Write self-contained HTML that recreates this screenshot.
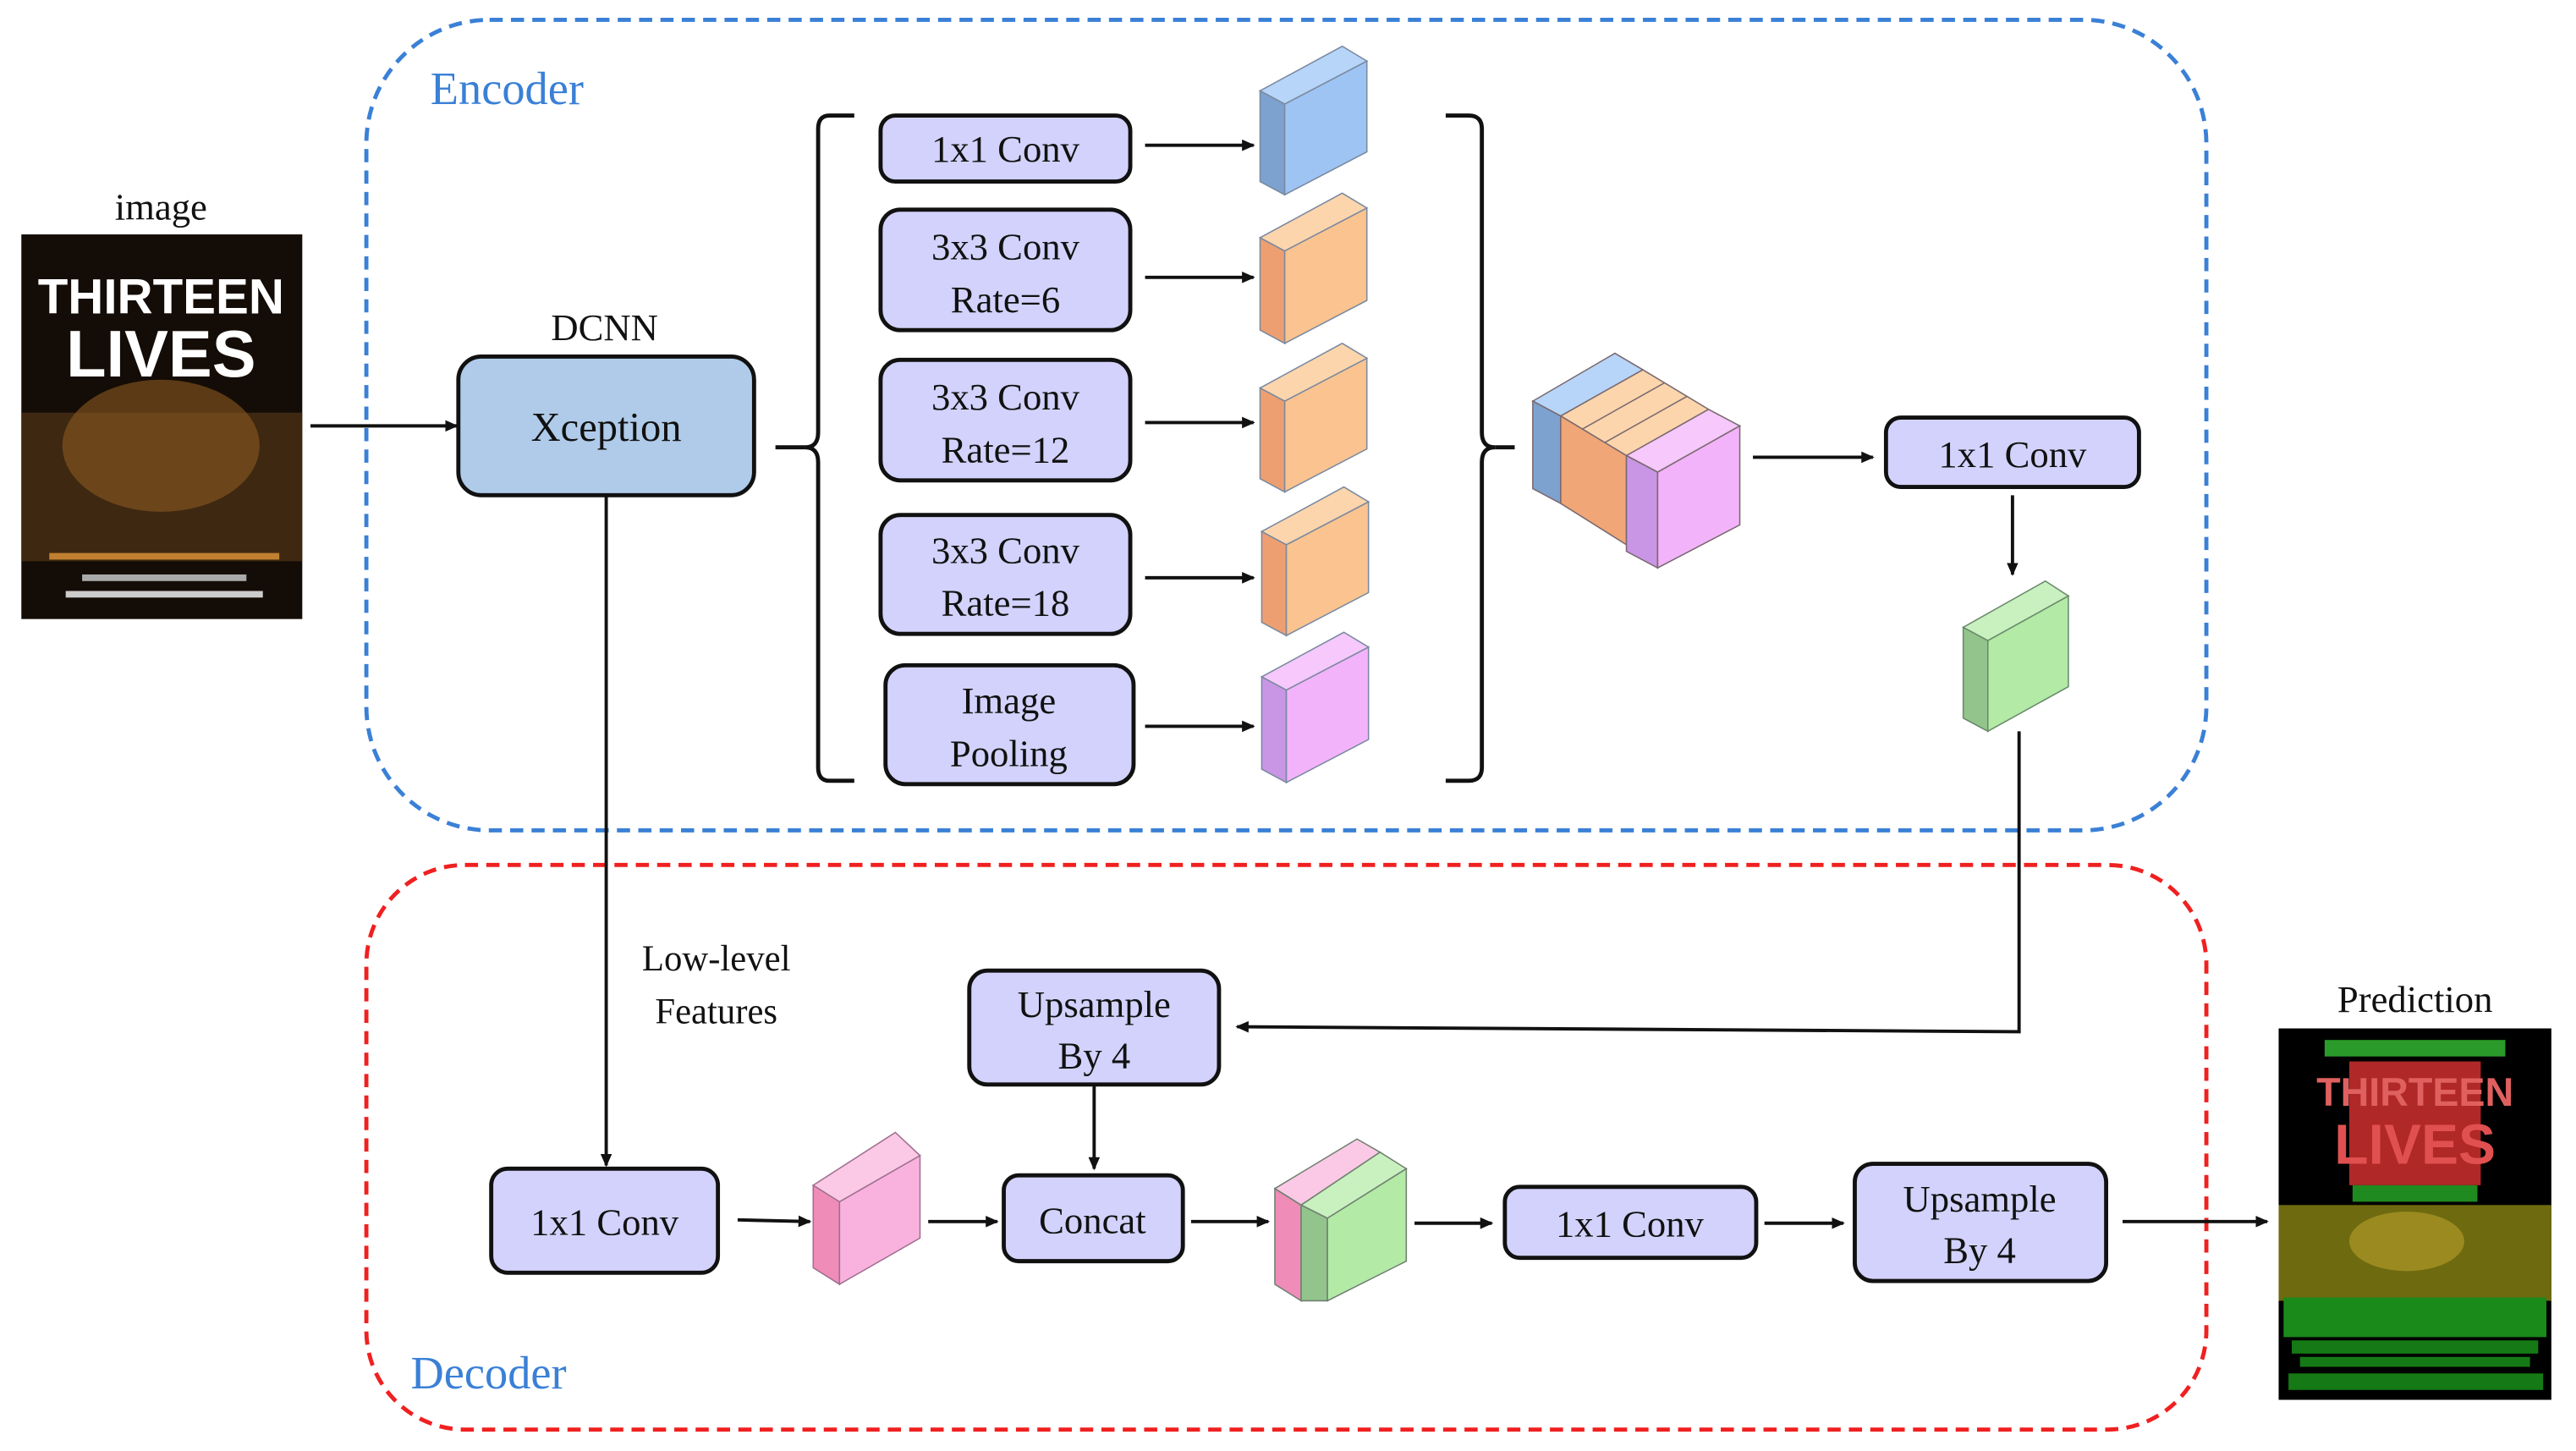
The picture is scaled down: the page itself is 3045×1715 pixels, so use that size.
<!DOCTYPE html>
<html><head><meta charset="utf-8"><style>
html,body{margin:0;padding:0;background:#fff;}
svg{display:block;}
text{font-family:"Liberation Serif",serif;fill:#111;}
</style></head><body>
<svg width="3045" height="1715" viewBox="0 0 1568 879" preserveAspectRatio="none" xmlns="http://www.w3.org/2000/svg">
<defs>
<marker id="ar" markerWidth="8" markerHeight="8" refX="7" refY="4" orient="auto" markerUnits="userSpaceOnUse">
<path d="M0,0.5 L8,4 L0,7.5 z" fill="#111"/></marker>
</defs>
<rect width="1568" height="879" fill="#fff"/>
<rect x="223" y="12" width="1120" height="491" rx="75" fill="none" stroke="#3a80d6" stroke-width="2.5" stroke-dasharray="8,5"/>
<text x="262" y="63" font-size="28" style="fill:#3a80d6">Encoder</text>
<rect x="223" y="524" width="1120" height="342" rx="60" fill="none" stroke="#f02020" stroke-width="2.5" stroke-dasharray="8,5"/>
<text x="250" y="841" font-size="28" style="fill:#3a80d6">Decoder</text>

<text x="98" y="133" font-size="23" text-anchor="middle">image</text>
<rect x="13" y="142" width="171" height="233" fill="#140c06"/>
<rect x="13" y="250" width="171" height="90" fill="#4a3015" opacity="0.8"/>
<ellipse cx="98" cy="270" rx="60" ry="40" fill="#8a5a1f" opacity="0.6"/>
<text x="98" y="190" font-size="30" text-anchor="middle" font-weight="bold" style="fill:#fff;font-family:'Liberation Sans Narrow','Liberation Sans',sans-serif">THIRTEEN</text>
<text x="98" y="228" font-size="40" text-anchor="middle" font-weight="bold" style="fill:#fff;font-family:'Liberation Sans Narrow','Liberation Sans',sans-serif">LIVES</text>
<rect x="30" y="335" width="140" height="4" fill="#c08030"/>
<rect x="50" y="348" width="100" height="4" fill="#aaa"/>
<rect x="40" y="358" width="120" height="4" fill="#ccc"/>
<line x1="189" y1="258" x2="278" y2="258" stroke="#111" stroke-width="2" marker-end="url(#ar)"/>

<text x="368" y="206" font-size="23" text-anchor="middle">DCNN</text>
<rect x="279" y="216" width="180" height="84" rx="14" fill="#afcbe9" stroke="#111" stroke-width="2.5"/>
<text x="369" y="267" font-size="25" text-anchor="middle">Xception</text>

<path d="M520,70 H505 Q498,70 498,78 V262 Q498,271 490,271 Q498,271 498,280 V465 Q498,473 505,473 H520" fill="none" stroke="#111" stroke-width="2.5"/>
<line x1="472" y1="271" x2="490" y2="271" stroke="#111" stroke-width="2.5"/>

<g stroke="#111" stroke-width="2.5" fill="#d2d2fc">
<rect x="536" y="70" width="152" height="40" rx="9"/>
<rect x="536" y="127" width="152" height="73" rx="12"/>
<rect x="536" y="218" width="152" height="73" rx="12"/>
<rect x="536" y="312" width="152" height="72" rx="12"/>
<rect x="539" y="403" width="151" height="72" rx="12"/>
</g>
<g font-size="23" text-anchor="middle">
<text x="612" y="98">1x1 Conv</text>
<text x="612" y="157">3x3 Conv</text><text x="612" y="189">Rate=6</text>
<text x="612" y="248">3x3 Conv</text><text x="612" y="280">Rate=12</text>
<text x="612" y="341">3x3 Conv</text><text x="612" y="373">Rate=18</text>
<text x="614" y="432">Image</text><text x="614" y="464">Pooling</text>
</g>
<g stroke="#111" stroke-width="2" marker-end="url(#ar)">
<line x1="697" y1="88" x2="763" y2="88"/>
<line x1="697" y1="168" x2="763" y2="168"/>
<line x1="697" y1="256" x2="763" y2="256"/>
<line x1="697" y1="350" x2="763" y2="350"/>
<line x1="697" y1="440" x2="763" y2="440"/>
</g>

<g stroke="#7a8aa0" stroke-width="0.8">
<polygon points="767,55 782,63 782,118 767,110" fill="#7da2cf"/>
<polygon points="782,63 832,37 832,92 782,118" fill="#9ec4f4"/>
<polygon points="767,55 817,28 832,37 782,63" fill="#b7d5f8"/>
<polygon points="767,144 782,152 782,208 767,200" fill="#ee9f72"/>
<polygon points="782,152 832,126 832,182 782,208" fill="#fbc38f"/>
<polygon points="767,144 817,117 832,126 782,152" fill="#fdd5ac"/>
<polygon points="767,235 782,243 782,298 767,290" fill="#ee9f72"/>
<polygon points="782,243 832,217 832,272 782,298" fill="#fbc38f"/>
<polygon points="767,235 817,208 832,217 782,243" fill="#fdd5ac"/>
<polygon points="768,322 783,330 783,385 768,377" fill="#ee9f72"/>
<polygon points="783,330 833,304 833,359 783,385" fill="#fbc38f"/>
<polygon points="768,322 818,295 833,304 783,330" fill="#fdd5ac"/>
<polygon points="768,410 783,418 783,474 768,466" fill="#c996e6"/>
<polygon points="783,418 833,392 833,448 783,474" fill="#f3b3fb"/>
<polygon points="768,410 818,383 833,392 783,418" fill="#f6c8fb"/>
</g>

<path d="M880,70 H894 Q902,70 902,78 V262 Q902,271 910,271 Q902,271 902,280 V465 Q902,473 894,473 H880" fill="none" stroke="#111" stroke-width="2.5"/>
<line x1="910" y1="271" x2="922" y2="271" stroke="#111" stroke-width="2.5"/>

<g stroke="#7a6a70" stroke-width="0.8">
<polygon points="933,243 983,214 1000,224 950,252" fill="#b7d5f8"/>
<polygon points="933,243 950,252 950,305 933,296" fill="#7da2cf"/>
<polygon points="950,252 1000,224 1040,248 990,276" fill="#fdd5ac"/>
<polygon points="950,252 990,276 990,330 950,305" fill="#f0a676"/>
<line x1="963" y1="260" x2="1013" y2="232" />
<line x1="977" y1="268" x2="1027" y2="240" />
<polygon points="990,276 1040,248 1059,258 1009,286" fill="#f6c8fb"/>
<polygon points="990,276 1009,286 1009,344 990,334" fill="#c996e6"/>
<polygon points="1009,286 1059,258 1059,318 1009,344" fill="#f3b3fb"/>
</g>
<line x1="1067" y1="277" x2="1140" y2="277" stroke="#111" stroke-width="2" marker-end="url(#ar)"/>
<rect x="1148" y="253" width="154" height="42" rx="9" fill="#d2d2fc" stroke="#111" stroke-width="2.5"/>
<text x="1225" y="283" font-size="23" text-anchor="middle">1x1 Conv</text>
<line x1="1225" y1="300" x2="1225" y2="348" stroke="#111" stroke-width="2" marker-end="url(#ar)"/>
<g stroke="#6a8a6a" stroke-width="0.8">
<polygon points="1195,380 1210,388 1210,443 1195,435" fill="#92c48c"/>
<polygon points="1210,388 1259,361 1259,416 1210,443" fill="#b2eaa6"/>
<polygon points="1195,380 1245,352 1259,361 1210,388" fill="#c9f1c0"/>
</g>
<polyline points="1229,443 1229,625 753,622" fill="none" stroke="#111" stroke-width="2" marker-end="url(#ar)"/>

<line x1="369" y1="300" x2="369" y2="706" stroke="#111" stroke-width="2" marker-end="url(#ar)"/>
<text x="436" y="588" font-size="22" text-anchor="middle">Low-level</text>
<text x="436" y="620" font-size="22" text-anchor="middle">Features</text>

<g stroke="#111" stroke-width="2.5" fill="#d2d2fc">
<rect x="590" y="588" width="152" height="69" rx="11"/>
<rect x="299" y="708" width="138" height="63" rx="10"/>
<rect x="611" y="712" width="109" height="52" rx="9"/>
<rect x="916" y="719" width="153" height="43" rx="9"/>
<rect x="1129" y="705" width="153" height="71" rx="11"/>
</g>
<g font-size="23" text-anchor="middle">
<text x="666" y="616">Upsample</text><text x="666" y="647">By 4</text>
<text x="368" y="748">1x1 Conv</text>
<text x="665" y="747">Concat</text>
<text x="992" y="749">1x1 Conv</text>
<text x="1205" y="734">Upsample</text><text x="1205" y="765">By 4</text>
</g>
<g stroke="#111" stroke-width="2" marker-end="url(#ar)">
<line x1="666" y1="658" x2="666" y2="708"/>
<line x1="449" y1="739" x2="493" y2="740"/>
<line x1="565" y1="740" x2="607" y2="740"/>
<line x1="725" y1="740" x2="772" y2="740"/>
<line x1="861" y1="741" x2="908" y2="741"/>
<line x1="1074" y1="741" x2="1122" y2="741"/>
<line x1="1292" y1="740" x2="1380" y2="740"/>
</g>
<g stroke="#a07090" stroke-width="0.8">
<polygon points="495,718 511,728 511,778 495,768" fill="#f08cb8"/>
<polygon points="511,728 560,700 560,750 511,778" fill="#f9b2de"/>
<polygon points="495,718 545,686 560,700 511,728" fill="#fbc9e6"/>
</g>
<g stroke="#708070" stroke-width="0.8">
<polygon points="776,720 792,730 792,788 776,778" fill="#f08cb8"/>
<polygon points="776,720 826,690 840,698 792,730" fill="#fbc9e6"/>
<polygon points="792,730 840,698 856,708 808,738" fill="#c9f1c0"/>
<polygon points="792,730 808,738 808,788 792,788" fill="#92c48c"/>
<polygon points="808,738 856,708 856,764 808,788" fill="#b2eaa6"/>
</g>

<text x="1470" y="613" font-size="23" text-anchor="middle">Prediction</text>
<rect x="1387" y="623" width="166" height="225" fill="#000"/>
<rect x="1415" y="630" width="110" height="10" fill="#2a9a2a"/>
<rect x="1430" y="643" width="80" height="75" fill="#b02828"/>
<text x="1470" y="670" font-size="24" text-anchor="middle" font-weight="bold" style="fill:#e06060;font-family:'Liberation Sans Narrow','Liberation Sans',sans-serif">THIRTEEN</text>
<text x="1470" y="705" font-size="34" text-anchor="middle" font-weight="bold" style="fill:#e05050;font-family:'Liberation Sans Narrow','Liberation Sans',sans-serif">LIVES</text>
<rect x="1432" y="718" width="76" height="10" fill="#1f8a1f"/>
<rect x="1387" y="730" width="166" height="58" fill="#6e6a10"/>
<ellipse cx="1465" cy="752" rx="35" ry="18" fill="#9a8a20"/>
<rect x="1390" y="786" width="160" height="24" fill="#1a8a1a"/>
<rect x="1395" y="812" width="150" height="8" fill="#157a15"/>
<rect x="1400" y="822" width="140" height="6" fill="#157a15"/>
<rect x="1393" y="832" width="155" height="10" fill="#157a15"/>
</svg>
</body></html>
